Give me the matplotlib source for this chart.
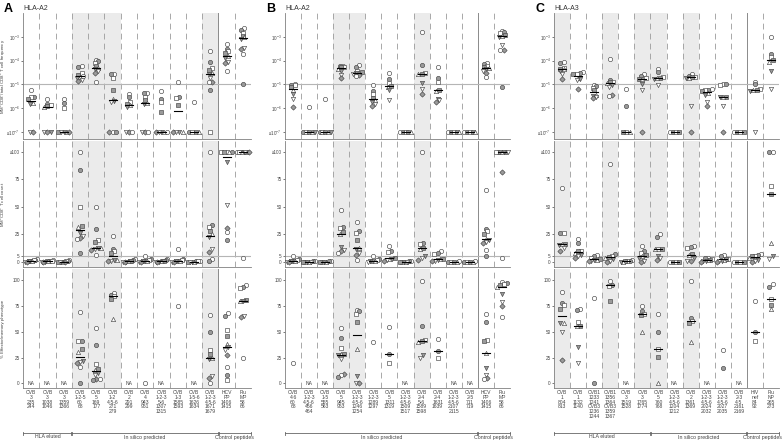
import numpy as np
import matplotlib.pyplot as plt
from matplotlib.ticker import NullLocator

plt.rcParams['font.family'] = ['Liberation Sans', 'DejaVu Sans']
plt.rcParams['mathtext.default'] = 'regular'

# ---------------- data ----------------
a_labels = ["CVB\n3\n235\n244", "CVB\n3\n1038\n1046", "CVB\n3\n1359\n1366", "CVB\n1-2-5\n60\n68",
            "CVB\n5\n169\n177", "CVB\n1-2\n4-5-6\n271\n279", "CVB\n2\n291\n299", "CVB\n4\n943\n951",
            "CVB\n1-2-3\n5-6\n1307\n1315", "CVB\n1-3\n1585\n1593", "CVB\n1-5-6\n1626\n1634",
            "CVB\n1-2-3\n4-5-6\n1671\n1679", "HCV\nPP\n1406\n1415", "Flu\nMP\n58\n66"]
b_labels = ["CVB\n4-6\n60\n68", "CVB\n1-2-3\n4-5-6\n456\n464", "CVB\n1-5\n555\n563", "CVB\n5\n945\n953",
            "CVB\n1-2-3\n4-5-6\n1246\n1254", "CVB\n1-2-3\n1289\n1297", "CVB\n5\n1311\n1319",
            "CVB\n1-2-3\n4-5-6\n1509\n1517", "CVB\n2-4\n5-6\n1589\n1598", "CVB\n2-4\n1631\n1639",
            "CVB\n1-2-3\n4-5-6\n2107\n2115", "CVB\n2-5\n711\n719", "HCV\nPP\n1406\n1415", "Flu\nMP\n58\n66"]
c_labels = ["CVB\n1\n804\n813", "CVB\n1\n1132\n1140", "CVB1\n1233\n1241\nCVB3\n1236\n1244",
            "CVB1\n1356\n1364\nCVB3\n1359\n1367", "CVB\n3\n1519\n1528", "CVB\n3\n1765\n1774",
            "CVB\n5\n760\n768", "CVB\n1-2-3\n4-5-6\n1204\n1212", "CVB\n2\n1361\n1369",
            "CVB\n1-2-3\n4-5-6\n2024\n2032", "CVB\n1-2-3\n4-5-6\n2027\n2035", "CVB\n2-3\n4-5\n2161\n2169",
            "HIV\nnef\n84\n92", "Flu\nNP\n265\n273"]

a_freq = [
    [5.5e-6, 3e-6, 2.8e-6, 2.5e-6, 1.6e-6, 1.5e-6, 1e-7, 1e-7],
    [2.5e-6, 1.5e-6, 1.3e-6, 1.2e-6, 1.1e-6, 1e-7, 1e-7, 1e-7],
    [2.5e-6, 1.6e-6, 1e-6, 1e-7, 1e-7, 1e-7, 1e-7, 1e-7],
    [6e-5, 5.5e-5, 3e-5, 2.5e-5, 2e-5, 1.8e-5, 1.5e-5, 1.4e-5, 2.2e-5],
    [1.1e-4, 1e-4, 8e-5, 6e-5, 5e-5, 4.5e-5, 3.5e-5, 3e-5, 1.3e-5],
    [2.8e-5, 2.6e-5, 1.8e-5, 5.5e-6, 2.5e-6, 2e-6, 1.8e-6, 1e-7, 1e-7, 1e-7],
    [4e-6, 3e-6, 1.8e-6, 1.5e-6, 1.3e-6, 1.1e-6, 1e-7, 1e-7, 1e-7],
    [4.5e-6, 4.3e-6, 3e-6, 2.2e-6, 1.7e-6, 1.5e-6, 1e-7, 1e-7, 1e-7],
    [5e-6, 2.5e-6, 1.8e-6, 7e-7, 1e-7, 1e-7, 1e-7, 1e-7, 1e-7],
    [1.3e-5, 2.8e-6, 2.6e-6, 1.4e-6, 1e-7, 1e-7, 1e-7, 1e-7],
    [1.8e-6, 1e-7, 1e-7, 1e-7, 1e-7],
    [2.6e-4, 9e-5, 5e-5, 4e-5, 3e-5, 2.8e-5, 1.8e-5, 1.3e-5, 1.2e-5, 5.5e-6, 1e-7],
    [4.8e-4, 3e-4, 2.5e-4, 2e-4, 1.6e-4, 1.3e-4, 9e-5, 8e-5, 3.7e-5],
    [2.3e-3, 2e-3, 1.4e-3, 1.1e-3, 1e-3, 8e-4, 3.5e-4, 3e-4, 1.9e-4, 1e-5],
]
a_count = [
    [3, 2, 1.5, 1, 1, 0.5, 0, 0],
    [1.5, 1, 1, 0.5, 0.5, 0, 0, 0],
    [1.5, 1, 0.5, 0, 0, 0, 0, 0],
    [100, 84, 50, 33, 32, 26, 24, 22, 21, 8],
    [50, 30, 20, 18, 13, 12.5, 12, 11, 6],
    [24, 12, 10, 8, 2, 1.5, 1, 0.5],
    [3, 2, 1, 1, 0.5, 0, 0, 0],
    [5, 3, 2, 1, 1, 0.5, 0, 0],
    [3, 2, 1, 1, 0.5, 0, 0, 0],
    [12, 3, 2, 1, 1, 0.5, 0, 0],
    [1, 0.5, 0.5, 0, 0, 0, 0],
    [100, 34, 32, 28, 25, 23, 12, 9, 3, 1],
    [100, 100, 100, 100, 100, 91, 52, 31, 27, 20],
    [100, 100, 100, 100, 100, 100, 100, 100, 4],
]
a_pct = [
    [], [], [],
    [69, 41.5, 41, 33, 30, 22, 21, 20, 16, 0],
    [54, 37, 19, 14, 13, 10, 8, 4, 4, 3],
    [88, 86, 85, 82, 62],
    [],
    [0],
    [],
    [75],
    [],
    [66, 50, 32, 28, 25, 24, 7, 5, 0],
    [68, 65, 52, 46, 38, 35, 32, 27, 16, 8, 3],
    [95, 94, 93, 81, 80, 80, 65, 64, 25],
]

b_freq = [
    [1e-5, 9.5e-6, 9e-6, 7.5e-6, 5.5e-6, 3.8e-6, 2.3e-6, 1.1e-6],
    [1.1e-6, 1e-7, 1e-7, 1e-7, 1e-7, 1e-7],
    [2.3e-6, 1e-7, 1e-7, 1e-7, 1e-7, 1e-7],
    [6e-5, 5.8e-5, 5.5e-5, 5.3e-5, 4.5e-5, 3.5e-5, 2.5e-5, 1.9e-5],
    [6.7e-5, 5.6e-5, 3.6e-5, 3.2e-5, 3e-5, 2.9e-5, 2.8e-5, 2.4e-5, 2.2e-5],
    [9e-6, 5.2e-6, 4e-6, 2.6e-6, 2.2e-6, 1.8e-6, 1.5e-6, 1.2e-6],
    [3e-5, 1.6e-5, 1.1e-5, 8.5e-6, 7.5e-6, 5.5e-6, 2.2e-6],
    [1e-7, 1e-7, 1e-7, 1e-7, 1e-7],
    [1.6e-3, 6.8e-5, 3e-5, 2.8e-5, 2.7e-5, 1.1e-5, 6.5e-6, 4e-6],
    [5.5e-5, 1.8e-5, 1.2e-5, 5.6e-6, 5.4e-6, 2.3e-6, 2.1e-6, 1.8e-6],
    [1e-7, 1e-7, 1e-7, 1e-7, 1e-7],
    [1e-7, 1e-7, 1e-7, 1e-7, 1e-7],
    [7.8e-5, 7e-5, 6e-5, 5.5e-5, 4.7e-5, 4.5e-5, 3.8e-5, 3e-5, 2e-5],
    [1.8e-3, 1.6e-3, 1.4e-3, 1.2e-3, 1.1e-3, 1e-3, 4.6e-4, 2.9e-4, 2.7e-4, 7.8e-6],
]
b_count = [
    [5, 3, 2, 1, 1, 0.5, 0, 0],
    [1, 0.5, 0, 0, 0, 0, 0],
    [1, 0.5, 0, 0, 0, 0],
    [47, 32, 31, 27, 25, 14, 11, 10, 8.5],
    [36, 28.5, 26, 20, 13, 12, 8.5, 6.4, 2],
    [5, 3, 2, 1, 1, 0.5, 0],
    [14.5, 10, 9, 4, 3, 3, 2, 1],
    [0.5, 0.5, 0, 0, 0, 0, 0],
    [100, 17, 16, 13, 12, 5, 4, 2],
    [10, 8.5, 7, 3, 2.5, 1.5, 1, 0.5],
    [0.5, 0, 0, 0, 0],
    [0.5, 0, 0, 0, 0],
    [65, 30, 28, 25, 21, 20, 18, 17, 11, 5.5],
    [100, 100, 100, 100, 100, 100, 100, 81.5, 3.3],
]
b_pct = [
    [19.5], [], [],
    [54, 44, 34, 28.5, 28, 27, 23.7, 9, 8, 6.5],
    [71, 70, 67, 60, 33.4, 7, 0, 0],
    [40],
    [54.5, 28.5, 19.5],
    [],
    [99, 56, 42, 41, 40.5, 27.6, 25],
    [43, 31, 25],
    [], [],
    [67, 60, 42.5, 41.5, 29.5, 14.6, 8, 5.5, 3.9],
    [98, 97, 96, 95.5, 94, 87, 78.6, 74.7, 64.6],
]

c_freq = [
    [8.8e-5, 8e-5, 5e-5, 4.6e-5, 4.4e-5, 3.6e-5, 2.7e-5, 1.6e-5],
    [3.2e-5, 3e-5, 2.8e-5, 2.6e-5, 1.9e-5, 1.6e-5, 1.5e-5, 6.3e-6],
    [9.5e-6, 8.5e-6, 7e-6, 5.5e-6, 3.6e-6, 3.3e-6, 3e-6, 2.6e-6],
    [1.2e-4, 1.5e-5, 1.3e-5, 1.2e-5, 1.1e-5, 9e-6, 7.6e-6, 3.6e-6, 3.1e-6],
    [6.5e-6, 1.2e-6, 1e-7, 1e-7, 1e-7],
    [2.7e-5, 2.2e-5, 1.9e-5, 1.6e-5, 1.6e-5, 1e-5, 6e-6, 1e-7],
    [4.3e-5, 3.3e-5, 2e-5, 1.9e-5, 1.8e-5, 1.6e-5, 9e-6],
    [1e-7, 1e-7, 1e-7, 1e-7],
    [2.6e-5, 2.3e-5, 2.1e-5, 2e-5, 1.9e-5, 1.8e-5, 1.2e-6, 1e-7],
    [6.3e-6, 6e-6, 5.5e-6, 5e-6, 4.5e-6, 3.6e-6, 1.8e-6, 1.2e-6],
    [1e-5, 1e-5, 9.5e-6, 3e-6, 2.9e-6, 2.8e-6, 1.2e-6, 1e-7],
    [1e-7, 1e-7, 1e-7, 1e-7],
    [1.3e-5, 1e-5, 6.5e-6, 6e-6, 5.5e-6, 5.2e-6, 1e-7],
    [9.4e-4, 1.9e-4, 1.4e-4, 1.1e-4, 9e-5, 3.6e-5, 6.3e-6],
]
c_count = [
    [67, 26, 26, 16.5, 16, 15, 12.5, 10],
    [21, 17, 10, 9.5, 8.5, 6, 5, 4],
    [6, 5, 4, 3, 2, 1.5, 1, 0.5],
    [89, 7, 5, 4.5, 4, 3, 1, 0],
    [2, 1, 0.5, 0.5, 0, 0],
    [14.6, 10, 8, 6, 5.5, 4, 1, 0],
    [25, 23, 12, 12, 11.5, 5.5, 3.6, 2],
    [0, 0, 0, 0],
    [14.6, 14, 13, 7, 6.5, 4, 1, 1],
    [4, 3.5, 3, 2, 1.5, 1, 0.5, 0],
    [6.4, 5, 3, 2.5, 2, 1, 0.5, 0],
    [0, 0, 0, 0],
    [7, 6, 5.5, 5, 4, 2, 1, 0],
    [100, 100, 69, 61.7, 17.6, 5, 3],
]
c_pct = [
    [88.6, 77.5, 75.6, 72.6, 59, 58.6, 49.8, 22.8],
    [72, 71, 60, 56, 55.4, 34.8, 19.5],
    [83, 0],
    [99.7, 95.5, 94.5, 80],
    [],
    [75, 70.5, 67, 66, 50],
    [67.4, 50, 33, 26, 0],
    [],
    [99, 63.5, 60.6, 58.6, 39.7],
    [],
    [32.6, 15.3],
    [],
    [79.8, 50, 41.4],
    [96.4, 93.8, 82, 76.5, 72.3],
]

a_groups = [("HLA eluted", 0, 3), ("In silico predicted", 3, 12), ("Control peptides", 12, 14)]
b_groups = [("In silico predicted", 0, 12), ("Control peptides", 12, 14)]
c_groups = [("HLA eluted", 0, 6), ("In silico predicted", 6, 12), ("Control peptides", 12, 14)]

row_titles = ['MM$^{+}$CD8$^{+}$/total CD8$^{+}$ T cell frequency', 'MM$^{+}$CD8$^{+}$ T cell count',
              '% Effector/memory phenotype']

# ---------------- layout ----------------
W, H = 783, 441
fig = plt.figure(figsize=(W / 100, H / 100), dpi=100)


def box(left, top, right, bottom):
    return [left / W, 1 - bottom / H, (right - left) / W, (bottom - top) / H]


rows_px = [(13, 139), (141, 267), (269, 388)]
styles = [('o', 'white'), ('o', '#9a9a9a'), ('s', 'white'), ('s', '#9a9a9a'),
          ('^', 'white'), ('v', '#9a9a9a'), ('v', 'white'), ('D', '#9a9a9a')]
txt = '#444444'
spine_c = '#808080'


def spread(yv, tol):
    offs = np.zeros(len(yv))
    order = np.argsort(yv)
    groups = []
    for i in order:
        if groups and abs(yv[i] - yv[groups[-1][0]]) < tol:
            groups[-1].append(i)
        else:
            groups.append([i])
    for g in groups:
        k = len(g)
        step = min(0.2, 0.7 / max(k - 1, 1))
        for j, i in enumerate(g):
            offs[i] = (j - (k - 1) / 2) * step
    return offs


def draw_panel(left, right, letter, title, labels, freq, count, pct, shaded, groups, ylabels):
    axes = []
    for r, (top, bot) in enumerate(rows_px):
        ax = fig.add_axes(box(left, top, right, bot))
        ax.set_xlim(0, 14)
        for s in ['top', 'right']:
            ax.spines[s].set_visible(False)
        for s in ['left', 'bottom']:
            ax.spines[s].set_color(spine_c)
            ax.spines[s].set_linewidth(0.6)
        for c in shaded:
            ax.axvspan(c, c + 1, color='#ebebeb', lw=0, zorder=0)
        for b in range(1, 14):
            if b == 12:
                ax.axvline(b, color='#8a8a8a', lw=0.7, zorder=1)
            else:
                ax.axvline(b, color='#9a9a9a', lw=0.6, ls=(0, (7, 5)), zorder=1)
        ax.tick_params(axis='y', labelsize=3.3, colors=txt, length=1.5, width=0.5, pad=0.8)
        ax.tick_params(axis='x', length=0, labelsize=3.6, colors=txt, pad=1.5)
        axes.append(ax)

    ax1, ax2, ax3 = axes
    ax1.set_yscale('log')
    ax1.set_ylim(10 ** -7.3, 1e-2)
    ax1.set_yticks([1e-3, 1e-4, 1e-5, 1e-6, 1e-7],
                   ['$10^{-3}$', '$10^{-4}$', '$10^{-5}$', '$10^{-6}$', '≤$10^{-7}$'])
    ax1.yaxis.set_minor_locator(NullLocator())
    ax1.axhline(1e-5, color='#b5b5b5', lw=0.8, zorder=1)
    ax2.set_ylim(-4.6, 110)
    ax2.set_yticks([0, 5, 25, 50, 75, 100], ['0', '5', '25', '50', '75', '≥100'])
    ax2.axhline(5, color='#b5b5b5', lw=0.8, zorder=1)
    ax3.set_ylim(-4.6, 111)
    ax3.set_yticks([0, 25, 50, 75, 100])
    for ax in (ax1, ax2):
        ax.set_xticks([])
    ax3.set_xticks(np.arange(14) + 0.5, labels)
    for t in ax3.get_xticklabels():
        t.set_linespacing(0.95)

    if ylabels:
        for (top, bot), yl in zip(rows_px, ylabels):
            fig.text(3.5 / W, 1 - (top + bot) / 2 / H, yl, rotation=90, fontsize=3.2, color=txt,
                     ha='center', va='center')

    for ax, data, r in ((ax1, freq, 0), (ax2, count, 1), (ax3, pct, 2)):
        for i, vals in enumerate(data):
            if len(vals) == 0:
                if r == 2:
                    ax.text(i + 0.5, 0, 'NA', ha='center', va='center', fontsize=3.6, color=txt)
                continue
            v = np.array(vals, dtype=float)
            tv = np.log10(v) / 0.032 if r == 0 else v
            offs = spread(tv, 3.2)
            for k, (y, dx) in enumerate(zip(v, offs)):
                m, fc = styles[k % len(styles)]
                ms = 2.7 if m == 'D' else 3.1
                ax.plot(i + 0.5 + dx, y, marker=m, ms=ms, mfc=fc, mec='#454545', mew=0.45,
                        ls='none', zorder=3, clip_on=False)
            if len(v) >= 3:
                med = np.median(v)
                ax.plot([i + 0.25, i + 0.75], [med, med], color='black', lw=0.8, zorder=4)

    # group brackets
    axb = fig.add_axes(box(left, 425, right, 441))
    axb.set_xlim(0, 14)
    axb.set_ylim(16, 0)
    axb.axis('off')
    for name, x0, x1 in groups:
        axb.plot([x0 + 0.03, x1 - 0.03], [8, 8], color='#666666', lw=0.6, clip_on=False)
        for xe in (x0 + 0.03, x1 - 0.03):
            axb.plot([xe, xe], [6.5, 9.5], color='#666666', lw=0.6, clip_on=False)
        axb.text((x0 + x1) / 2, 12, name, ha='center', va='center', fontsize=3.8, color=txt)

    fig.text((left - 19) / W, 1 - 9 / H, letter, fontsize=9, fontweight='bold', va='center', ha='left')
    fig.text(left / W, 1 - 8 / H, title, fontsize=5, va='center', ha='left', color='#333333')


draw_panel(23, 251, 'A', 'HLA-A2', a_labels, a_freq, a_count, a_pct, [3, 4, 5, 11], a_groups, row_titles)
draw_panel(285, 510, 'B', 'HLA-A2', b_labels, b_freq, b_count, b_pct, [3, 4, 8], b_groups, None)
draw_panel(554, 779, 'C', 'HLA-A3', c_labels, c_freq, c_count, c_pct, [0, 3, 5, 6, 8], c_groups, None)

fig.savefig('out.png', dpi=100)
